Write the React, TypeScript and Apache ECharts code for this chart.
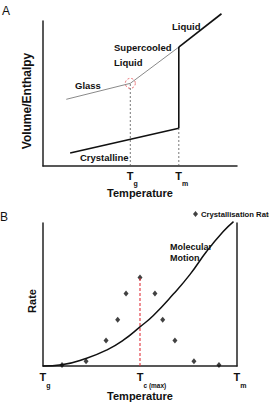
import React, { useEffect, useRef } from "react";
import * as echarts from "echarts";

// Panel A: volume/enthalpy against temperature
const TG = 45;
const TM = 70;
const glass = [[12, 46], [TG, 57]];
const supercooled = [[TG, 57], [TM, 82]];
const liquid = [[TM, 82], [92, 105]];
const meltJump = [[TM, 26], [TM, 82]];
const crystalline = [[14, 9], [TM, 26]];
const tgGuide = [[TG, 0], [TG, 57]];
const tmGuide = [[TM, 0], [TM, 26]];
const tickA = [TG, TM];
const tickNamesA = ["g", "m"];

// Panel B: rate against temperature
const motion = [
  [0, 0], [9.6, 0.9], [22.5, 5.5], [32.8, 11.2], [41.4, 18.1], [50, 27.4],
  [56.9, 35.4], [67.2, 50.3], [75.8, 64.1], [84.4, 80.2], [92.9, 94.0], [98.2, 101],
];
const crystallisation = [
  [9.8, 0.7], [22.2, 3.4], [32.5, 17.9], [38.5, 32.4], [42.8, 50.8], [50, 61.9],
  [57.7, 50.8], [61.7, 32.4], [68, 17.9], [77.8, 3.4], [90.7, 0.7],
];
const TC = 50;
const tcGuide = [[TC, 0], [TC, 61.9]];
const tickB = [0, TC, 100];
const tickNamesB = ["g", "c (max)", "m"];

const FONT = "'Liberation Sans', Arial, Helvetica, sans-serif";
const INK = "#111";
const AXIS = { lineStyle: { color: "#222", width: 1.5 } };

const subRich = (pad: number) => ({
  tg: { fontSize: 11, fontWeight: "bold", color: INK, fontFamily: FONT, lineHeight: 12, verticalAlign: "top", padding: [0, 0, 0, 4] },
  tm: { fontSize: 11, fontWeight: "bold", color: INK, fontFamily: FONT, lineHeight: 12, verticalAlign: "top", padding: [0, 0, 0, 6] },
  tc: { fontSize: 11, fontWeight: "bold", color: INK, fontFamily: FONT, lineHeight: 12, verticalAlign: "top", padding: [0, 0, 0, 23] },
  s: { fontSize: 7, fontWeight: "bold", color: INK, fontFamily: FONT, lineHeight: 8, verticalAlign: "top", padding: [pad, 0, 0, 0] },
  sc: { fontSize: 6.5, fontWeight: "bold", color: INK, fontFamily: FONT, lineHeight: 8, verticalAlign: "top", padding: [pad, 0, 0, 0] },
});

const tickFormatter = (values: number[], names: string[]) => (v: number) => {
  const i = values.findIndex((x) => Math.abs(x - v) < 1e-6);
  if (i < 0) return "";
  const n = names[i];
  const key = n === "g" ? "tg" : n === "m" ? "tm" : "tc";
  const sub = n.length > 1 ? "sc" : "s";
  return `{${key}|T}{${sub}|${n}}`;
};

const labelText = (text: string, x: number, y: number, size = 9.5) => ({
  type: "text",
  x,
  y,
  style: { text, fill: INK, fontSize: size, fontWeight: "bold", fontFamily: FONT, verticalAlign: "middle", align: "left" },
});

const axisTitle = (text: string, x: number, y: number, size: number) => ({
  type: "text",
  x,
  y,
  rotation: Math.PI / 2,
  style: { text, fill: INK, fontSize: size, fontWeight: "bold", fontFamily: FONT, verticalAlign: "middle", align: "center" },
});

export default function App() {
  const ref = useRef<HTMLDivElement>(null);

  useEffect(() => {
    if (!ref.current) return;
    const chart = echarts.init(ref.current, undefined, { renderer: "svg" });
    const seg = (xi: number, data: number[][], color: string, width: number, type: any = "solid") => ({
      type: "line",
      xAxisIndex: xi,
      yAxisIndex: xi,
      data,
      symbol: "none",
      clip: false,
      silent: true,
      lineStyle: { color, width, type },
    });

    chart.setOption({
      animation: false,
      backgroundColor: "#fff",
      textStyle: { fontFamily: FONT },
      legend: {
        data: [{ name: "Crystallisation Rate", icon: "diamond" }],
        left: 188,
        top: 205,
        itemWidth: 5,
        itemHeight: 6,
        itemGap: 4,
        textStyle: { fontSize: 7.7, fontWeight: "bold", color: INK, fontFamily: FONT, padding: [0, 0, 0, -2] },
      },
      grid: [
        { left: 43, top: 21, width: 194, height: 145 },
        { left: 43, top: 223, width: 194, height: 145 },
      ],
      xAxis: [
        {
          gridIndex: 0, type: "value", min: 0, max: 100,
          axisLine: AXIS, axisTick: { show: false }, splitLine: { show: false },
          axisLabel: { customValues: tickA, formatter: tickFormatter(tickA, tickNamesA), margin: 4, rich: subRich(10) },
          name: "Temperature", nameLocation: "middle", nameGap: 21,
          nameTextStyle: { fontSize: 11, fontWeight: "bold", color: INK, fontFamily: FONT },
        },
        {
          gridIndex: 1, type: "value", min: 0, max: 100,
          axisLine: AXIS, axisTick: { show: false }, splitLine: { show: false },
          axisLabel: { customValues: tickB, formatter: tickFormatter(tickB, tickNamesB), margin: 5, rich: subRich(11) },
          name: "Temperature", nameLocation: "middle", nameGap: 20,
          nameTextStyle: { fontSize: 11, fontWeight: "bold", color: INK, fontFamily: FONT },
        },
      ],
      yAxis: [
        {
          gridIndex: 0, type: "value", min: 0, max: 100,
          axisLine: AXIS, axisTick: { show: false }, axisLabel: { show: false }, splitLine: { show: false },
        },
        {
          gridIndex: 1, type: "value", min: 0, max: 100,
          axisLine: AXIS, axisTick: { show: false }, axisLabel: { show: false }, splitLine: { show: false },
        },
        {
          gridIndex: 1, type: "value", min: 0, max: 100, position: "right",
          axisLine: { show: true, ...AXIS }, axisTick: { show: false }, axisLabel: { show: false }, splitLine: { show: false },
        },
      ],
      series: [
        seg(0, glass, "#8a8a8a", 1),
        seg(0, supercooled, "#8a8a8a", 1),
        seg(0, liquid, "#111", 1.6),
        seg(0, meltJump, "#111", 1.6),
        seg(0, crystalline, "#111", 1.6),
        seg(0, tgGuide, "#555", 0.8, [2, 2]),
        seg(0, tmGuide, "#555", 0.8, [2, 2]),
        {
          type: "scatter",
          xAxisIndex: 0,
          yAxisIndex: 0,
          data: [[TG, 57]],
          symbol: "circle",
          symbolSize: 10,
          silent: true,
          itemStyle: { color: "rgba(0,0,0,0)", borderColor: "#e0454a", borderWidth: 1, borderType: [2, 2] },
        },
        seg(1, tcGuide, "#e0303a", 1.1, [3, 2]),
        {
          type: "line",
          name: "Molecular Motion",
          xAxisIndex: 1,
          yAxisIndex: 1,
          data: motion,
          smooth: true,
          symbol: "none",
          clip: false,
          silent: true,
          lineStyle: { color: "#111", width: 1.5 },
        },
        {
          type: "scatter",
          name: "Crystallisation Rate",
          xAxisIndex: 1,
          yAxisIndex: 1,
          data: crystallisation,
          symbol: "diamond",
          symbolSize: [5, 6],
          silent: true,
          itemStyle: { color: "#111" },
        },
      ],
      graphic: [
        { type: "text", x: 2, y: 11, style: { text: "A", fill: INK, fontSize: 12, fontFamily: FONT, verticalAlign: "middle" } },
        { type: "text", x: 0, y: 217, style: { text: "B", fill: INK, fontSize: 12, fontFamily: FONT, verticalAlign: "middle" } },
        axisTitle("Volume/Enthalpy", 27, 101, 12),
        axisTitle("Rate", 32, 301, 11),
        labelText("Liquid", 172, 26),
        labelText("Supercooled", 114, 47),
        labelText("Liquid", 114, 62),
        labelText("Glass", 75, 85),
        labelText("Crystalline", 80, 157),
        labelText("Molecular", 170, 247, 9),
        labelText("Motion", 170, 258, 9),
      ],
    });
    return () => chart.dispose();
  }, []);

  return <div ref={ref} style={{ position: "fixed", left: 0, top: 0, width: 269, height: 402 }} />;
}
